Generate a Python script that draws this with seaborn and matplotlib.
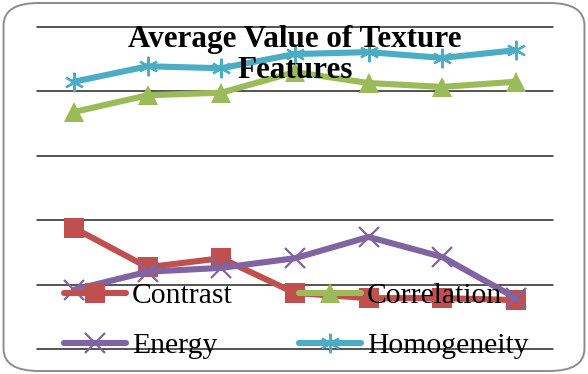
import matplotlib
matplotlib.use("Agg")
import matplotlib.pyplot as plt
from matplotlib.patches import FancyBboxPatch
import seaborn as sns
import pandas as pd

# valeurs (7 images)
points = [1, 2, 3, 4, 5, 6, 7]
contrast = [1.88, 1.27, 1.41, 0.87, 0.79, 0.79, 0.76]
correlation = [3.68, 3.94, 3.98, 4.30, 4.13, 4.07, 4.15]
energy = [0.92, 1.20, 1.26, 1.41, 1.74, 1.43, 0.79]
homogeneity = [4.15, 4.39, 4.36, 4.58, 4.61, 4.52, 4.64]

series = ["Contrast", "Correlation", "Energy", "Homogeneity"]
colors = {"Contrast": "#C0504D", "Correlation": "#9BBB59",
          "Energy": "#8064A2", "Homogeneity": "#4BACC6"}
markers = {"Contrast": "s", "Correlation": "^",
           "Energy": "x", "Homogeneity": (6, 2, 0)}

df = pd.DataFrame({"point": points, "Contrast": contrast, "Correlation": correlation,
                   "Energy": energy, "Homogeneity": homogeneity})
df_long = df.melt(id_vars="point", var_name="feature", value_name="value")

sns.set_theme(style="white")
plt.rcParams["font.family"] = ["Liberation Serif", "DejaVu Serif"]
plt.rcParams["text.color"] = "black"

fig = plt.figure(figsize=(5.88, 3.74), dpi=100)
# cadre arrondi
fig.patches.append(FancyBboxPatch((0.006, 0.008), 0.988, 0.984,
                                  boxstyle="round,pad=0,rounding_size=0.06",
                                  transform=fig.transFigure, facecolor="none",
                                  edgecolor="#8c8c8c", linewidth=1.4, zorder=5))
ax = fig.add_axes([0.063, 0.0668, 0.877, 0.861])
ax.set_facecolor("none")

for name in series:
    sub = df_long[df_long["feature"] == name]
    m = markers[name]
    thin = m in ("x",) or isinstance(m, tuple)
    sns.lineplot(data=sub, x="point", y="value", ax=ax, color=colors[name],
                 linewidth=4.4, marker=m, markersize=15 if not thin else 14,
                 markeredgewidth=1.6 if thin else 0,
                 markeredgecolor=colors[name], markerfacecolor=colors[name],
                 label=name, clip_on=False)

ax.set_xlim(0.5, 7.5)
ax.set_ylim(0, 5)
ax.set_yticks(range(6))
ax.set_xticks([])
for v in range(6):
    ax.axhline(v, color="#262626", linewidth=1.1, zorder=0, clip_on=False)
ax.set_yticklabels([])
ax.tick_params(left=False, bottom=False)
for s in ax.spines.values():
    s.set_visible(False)
ax.set_xlabel("")
ax.set_ylabel("")

# titre sur deux lignes, par dessus les courbes
ax.text(0.5, 0.938, "Average Value of Texture", transform=ax.transAxes,
        ha="center", va="baseline", fontsize=22.4, fontweight="bold", zorder=6)
ax.text(0.5, 0.842, "Features", transform=ax.transAxes,
        ha="center", va="baseline", fontsize=22.4, fontweight="bold", zorder=6)

handles, labels = ax.get_legend_handles_labels()
order = [0, 2, 1, 3]
ax.legend([handles[i] for i in order], [labels[i] for i in order], ncol=2,
          loc="lower left", bbox_to_anchor=(0.029, -0.069), frameon=False,
          fontsize=21.3, handlelength=2.1, handletextpad=0.2, columnspacing=2.23,
          labelspacing=0.8, borderaxespad=0)

fig.savefig("out.png", dpi=100)
